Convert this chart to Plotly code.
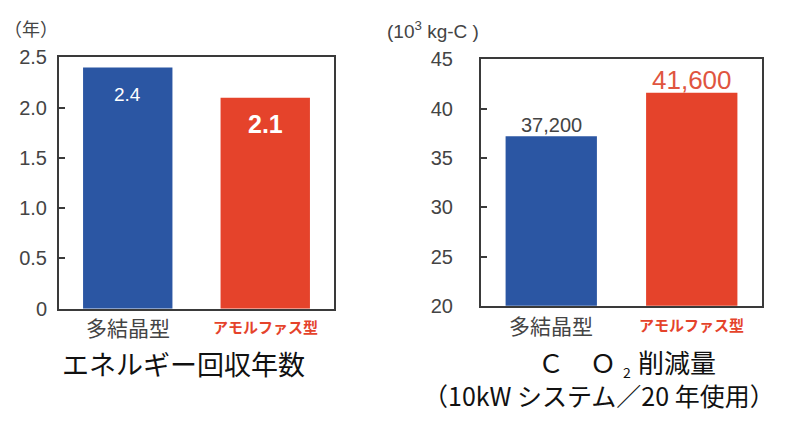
import plotly.graph_objects as go

# Data
categories = ["多結晶型", "アモルファス型"]
payback_years = [2.4, 2.1]
co2_reduction = [37.2, 41.6]          # 10^3 kg-C
payback_labels = ["2.4", "2.1"]
co2_labels = ["37,200", "41,600"]
left_ticks = [0, 0.5, 1.0, 1.5, 2.0, 2.5]
left_ticktext = ["0", "0.5", "1.0", "1.5", "2.0", "2.5"]
right_ticks = [20, 25, 30, 35, 40, 45]

BLUE = "#2b56a3"
RED = "#e5432b"
bar_colors = [BLUE, RED]

W, H = 791, 423
def px(x): return x / W
def py(y): return 1 - y / H

fig = go.Figure()
fig.add_trace(go.Bar(x=[0, 1], y=payback_years, marker=dict(color=bar_colors, line=dict(width=0)),
                     width=0.65, xaxis="x", yaxis="y", showlegend=False, hoverinfo="skip"))
fig.add_trace(go.Bar(x=[0, 1], y=co2_reduction, base=0, marker=dict(color=bar_colors, line=dict(width=0)),
                     width=0.65, xaxis="x2", yaxis="y2", showlegend=False, hoverinfo="skip"))

tick_font = dict(family="Liberation Sans, Arial", size=20, color="#444")
frame = dict(showline=True, mirror=True, linecolor="#3a3a3a", linewidth=2,
             showgrid=False, zeroline=False, fixedrange=True)

fig.update_layout(
    width=W, height=H, margin=dict(l=0, r=0, t=0, b=0),
    paper_bgcolor="white", plot_bgcolor="white",
    xaxis=dict(domain=[px(59), px(334)], range=[-0.5, 1.5], anchor="y",
               showticklabels=False, ticks="", **frame),
    yaxis=dict(domain=[py(314), py(49)], range=[0, 2.5], anchor="x",
               tickvals=left_ticks, ticktext=left_ticktext, ticks="inside",
               ticklen=6, tickwidth=1.5, tickcolor="#3a3a3a", tickfont=tick_font,
               ticklabelstandoff=6, **frame),
    xaxis2=dict(domain=[px(481), px(762)], range=[-0.5, 1.5], anchor="y2",
                showticklabels=False, ticks="", **frame),
    yaxis2=dict(domain=[py(311), py(51)], range=[20, 45], anchor="x2",
                tickvals=right_ticks, ticks="inside",
                ticklen=6, tickwidth=1.5, tickcolor="#3a3a3a", tickfont=tick_font,
                ticklabelstandoff=22, **frame),
)

ann = []
jp = "Noto Sans CJK JP"

# unit labels
ann.append(dict(text="（年）", xref="paper", yref="paper", x=px(2), y=py(18),
                xanchor="left", yanchor="middle", showarrow=False,
                font=dict(family=jp, size=18, color="#444")))
ann.append(dict(text="(10<sup>3</sup> kg-C )", xref="paper", yref="paper", x=px(385), y=py(20),
                xanchor="left", yanchor="middle", showarrow=False,
                font=dict(family="Liberation Sans, Arial", size=19, color="#444")))

# category labels under each panel
for xa in ["x", "x2"]:
    ya_y = py(333) if xa == "x" else py(331)
    ann.append(dict(text=categories[0], xref=xa, yref="paper", x=0, y=ya_y,
                    xanchor="center", yanchor="middle", showarrow=False,
                    font=dict(family=jp, size=21, color="#444")))
    ann.append(dict(text="<b>" + categories[1] + "</b>", xref=xa, yref="paper", x=1, y=ya_y,
                    xanchor="center", yanchor="middle", showarrow=False,
                    font=dict(family=jp, size=15, color=RED)))

# value labels
ann.append(dict(text=payback_labels[0], xref="x", yref="y", x=0, y=payback_years[0],
                yanchor="top", yshift=-14, showarrow=False,
                font=dict(family="Liberation Sans, Arial", size=19, color="white")))
ann.append(dict(text="<b>" + payback_labels[1] + "</b>", xref="x", yref="y", x=1, y=payback_years[1],
                yanchor="top", yshift=-10, showarrow=False,
                font=dict(family="Liberation Sans, Arial", size=25, color="white")))
ann.append(dict(text=co2_labels[0], xref="x2", yref="y2", x=0, y=co2_reduction[0],
                yanchor="bottom", yshift=-2, showarrow=False,
                font=dict(family="Liberation Sans, Arial", size=20, color="#444")))
ann.append(dict(text=co2_labels[1], xref="x2", yref="y2", x=1, y=co2_reduction[1],
                yanchor="bottom", yshift=-4, showarrow=False,
                font=dict(family="Liberation Sans, Arial", size=26, color="#e0553f")))

# panel titles
title_font = dict(family=jp, size=26, color="#111")
ann.append(dict(text="エネルギー回収年数", xref="paper", yref="paper", x=px(183), y=py(372),
                xanchor="center", yanchor="middle", showarrow=False,
                font=dict(family=jp, size=27, color="#111")))
# "CO2" with a lowered, smaller subscript
ann.append(dict(text="Ｃ　Ｏ", xref="paper", yref="paper", x=px(617), y=py(370),
                xanchor="right", yanchor="middle", showarrow=False, borderpad=0, font=title_font))
ann.append(dict(text="2", xref="paper", yref="paper", x=px(627), y=py(381),
                xanchor="center", yanchor="middle", showarrow=False, borderpad=0,
                font=dict(family=jp, size=14, color="#111")))
ann.append(dict(text="削減量", xref="paper", yref="paper", x=px(637), y=py(370),
                xanchor="left", yanchor="middle", showarrow=False, borderpad=0, font=title_font))
ann.append(dict(text="（10kW システム／20 年使用）", xref="paper", yref="paper", x=px(599), y=py(405),
                xanchor="center", yanchor="middle", showarrow=False,
                font=dict(family=jp, size=25, color="#111")))

fig.update_layout(annotations=ann)
fig.write_html("out.html")
